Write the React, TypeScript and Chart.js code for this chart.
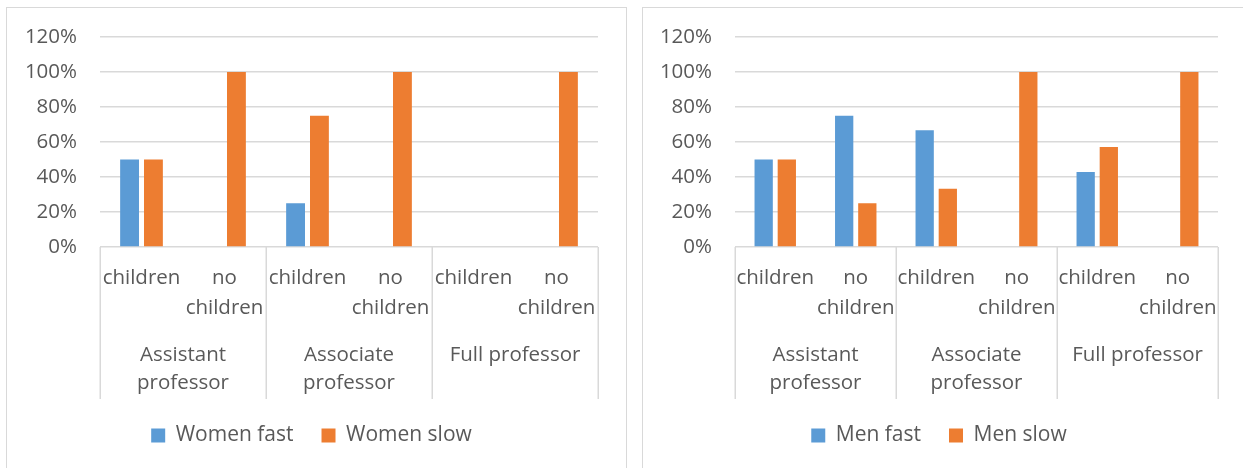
import { useEffect, useRef } from 'react';
import { Chart, registerables } from 'chart.js';

Chart.register(...registerables);

// ---- data ----
const subCategories: (string | string[])[] = [
  'children',
  ['no', 'children'],
  'children',
  ['no', 'children'],
  'children',
  ['no', 'children'],
];
const groupLabels: (string | string[])[] = [
  ['Assistant', 'professor'],
  ['Associate', 'professor'],
  'Full professor',
];
const yTickValues = [0, 0.2, 0.4, 0.6, 0.8, 1.0, 1.2];

const womenFast = [0.5, 0, 0.25, 0, 0, 0];
const womenSlow = [0.5, 1, 0.75, 1, 0, 1];
const menFast = [0.5, 0.75, 0.667, 0, 0.429, 0];
const menSlow = [0.5, 0.25, 0.333, 1, 0.571, 1];

const seriesNamesWomen = ['Women fast', 'Women slow'];
const seriesNamesMen = ['Men fast', 'Men slow'];

const BLUE = '#5B9BD5';
const ORANGE = '#ED7D31';
const GRID = '#d9d9d9';
const TEXT = '#595959';
const FONT = "'Open Sans', 'DejaVu Sans', sans-serif";

const separatorPlugin = {
  id: 'groupSeparators',
  afterDraw(chart: any) {
    const { ctx, chartArea } = chart;
    const x2 = chart.scales.x2;
    if (!x2) return;
    const n = groupLabels.length;
    const step = (x2.right - x2.left) / n;
    ctx.save();
    ctx.strokeStyle = GRID;
    ctx.lineWidth = 1.5;
    for (let i = 0; i <= n; i++) {
      const x = Math.round(x2.left + i * step) + 0.25;
      ctx.beginPath();
      ctx.moveTo(x, chartArea.bottom);
      ctx.lineTo(x, x2.bottom + 2);
      ctx.stroke();
    }
    ctx.restore();
  },
};

type PanelProps = {
  names: string[];
  fast: number[];
  slow: number[];
  left: number;
  width: number;
  padLeft: number;
};

function Panel({ names, fast, slow, left, width, padLeft }: PanelProps) {
  const ref = useRef<HTMLCanvasElement | null>(null);
  useEffect(() => {
    if (!ref.current) return;
    const font = { family: FONT, size: 20.5, lineHeight: 1.46 };
    const chart = new Chart(ref.current, {
      type: 'bar',
      data: {
        labels: subCategories as any,
        datasets: [
          {
            label: names[0],
            data: fast,
            backgroundColor: BLUE,
            borderWidth: 0,
            categoryPercentage: 0.575,
            barPercentage: 0.79,
          },
          {
            label: names[1],
            data: slow,
            backgroundColor: ORANGE,
            borderWidth: 0,
            categoryPercentage: 0.575,
            barPercentage: 0.79,
          },
        ],
      },
      options: {
        animation: false,
        responsive: false,
        maintainAspectRatio: false,
        layout: { padding: { top: 29, left: padLeft, right: 28, bottom: 13 } },
        plugins: {
          tooltip: { enabled: false },
          legend: {
            position: 'bottom',
            labels: {
              boxWidth: 14,
              boxHeight: 14,
              padding: 28,
              color: TEXT,
              font: { family: FONT, size: 21 },
            },
          },
        },
        scales: {
          y: {
            min: 0,
            max: 1.2,
            afterFit: (s: any) => {
              s.width = 75;
              s.paddingTop = 0;
              s.paddingBottom = 0;
            },
            afterBuildTicks: (s: any) => {
              s.ticks = yTickValues.map((v) => ({ value: v }));
            },
            grid: { color: GRID, lineWidth: 1.5, drawTicks: false },
            border: { display: false },
            ticks: {
              padding: 23,
              color: TEXT,
              font,
              autoSkip: false,
              callback: (v: any) => Math.round(Number(v) * 100) + '%',
            },
          },
          x: {
            grid: { display: false, drawTicks: false },
            border: { display: false },
            afterFit: (s: any) => {
              s.height = 76;
            },
            ticks: {
              padding: 16,
              color: TEXT,
              font,
              maxRotation: 0,
              minRotation: 0,
              autoSkip: false,
            },
          },
          x2: {
            type: 'category',
            position: 'bottom',
            labels: groupLabels as any,
            offset: true,
            grid: { display: false, drawTicks: false },
            border: { display: false },
            afterFit: (s: any) => {
              s.height = 74;
            },
            ticks: {
              padding: 18,
              color: TEXT,
              font: { family: FONT, size: 20.5, lineHeight: 1.38 },
              maxRotation: 0,
              minRotation: 0,
              autoSkip: false,
            },
          },
        },
      } as any,
      plugins: [separatorPlugin],
    });
    return () => chart.destroy();
  }, []);

  return (
    <div
      style={{
        position: 'absolute',
        left,
        top: 7,
        width,
        height: 470,
        border: `1px solid ${GRID}`,
        background: '#fff',
      }}
    >
      <canvas
        ref={ref}
        width={width}
        height={461}
        style={{ display: 'block', width, height: 461 }}
      />
    </div>
  );
}

export default function App() {
  return (
    <div
      style={{
        position: 'absolute',
        left: 0,
        top: 0,
        width: 1243,
        height: 468,
        overflow: 'hidden',
        background: '#fff',
      }}
    >
      <Panel names={seriesNamesWomen} fast={womenFast} slow={womenSlow} left={6} width={619} padLeft={18} />
      <Panel names={seriesNamesMen} fast={menFast} slow={menSlow} left={642} width={603} padLeft={17} />
    </div>
  );
}
